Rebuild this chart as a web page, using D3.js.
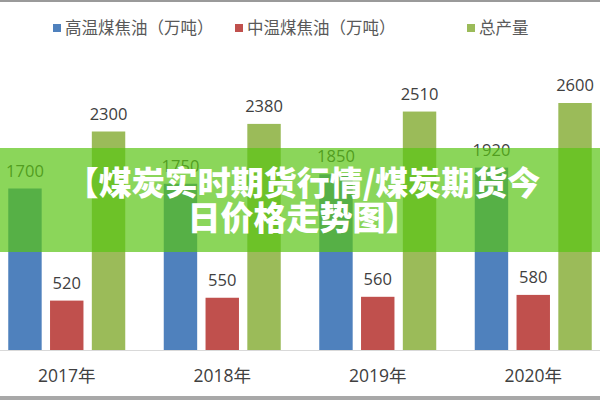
<!DOCTYPE html>
<html>
<head>
<meta charset="utf-8">
<script src="https://cdn.jsdelivr.net/npm/d3@7"></script>
<style>
  body { margin: 0; background: #fff; }
  text { font-family: "Open Sans", "Noto Sans CJK SC", sans-serif; }
</style>
</head>
<body>
<script>
var categories = ["2017年", "2018年", "2019年", "2020年"];
var seriesNames = ["高温煤焦油（万吨）", "中温煤焦油（万吨）", "总产量"];
var highTemp = [1700, 1750, 1850, 1920];
var midTemp = [520, 550, 560, 580];
var total = [2300, 2380, 2510, 2600];
var colors = ["#4f81bd", "#c0504d", "#9bbb59"];
var title = ["【煤炭实时期货行情/煤炭期货今", "日价格走势图】"];

var width = 600, height = 400;
var baseY = 350;

var svg = d3.select("body").append("svg")
    .attr("width", width)
    .attr("height", height);

var x0 = d3.scaleBand()
    .domain(categories)
    .range([-11, 611]);

var x1 = d3.scaleBand()
    .domain([0, 1, 2])
    .range([0, 117])
    .paddingInner(0.2);

var y = d3.scaleLinear()
    .domain([0, 3000])
    .range([baseY, baseY - 285]);

var series = [highTemp, midTemp, total];
var rows = categories.map((c, i) => ({ cat: c, vals: series.map(s => s[i]) }));

// frame lines
svg.append("rect").attr("x", 0).attr("y", 0).attr("width", width).attr("height", 2).attr("fill", "#9a9a9a");
svg.append("rect").attr("x", 0).attr("y", 396).attr("width", width).attr("height", 4).attr("fill", "#a8a8a8");

// legend
var legendX = [53, 235, 467];
var legend = svg.append("g").selectAll("g").data(seriesNames).enter().append("g")
    .attr("transform", (d, i) => "translate(" + legendX[i] + ",0)");
legend.append("rect")
    .attr("x", 0).attr("y", 24).attr("width", 8).attr("height", 8)
    .attr("fill", (d, i) => colors[i]);
legend.append("text")
    .attr("x", 12).attr("y", 34)
    .attr("font-size", 16.5)
    .attr("fill", "#595959")
    .text(d => d);

// bars
var groups = svg.append("g").selectAll("g").data(rows).enter().append("g")
    .attr("transform", d => "translate(" + (x0(d.cat) + (x0.bandwidth() - 117) / 2) + ",0)");

groups.selectAll("rect").data(d => d.vals).enter().append("rect")
    .attr("x", (d, i) => x1(i))
    .attr("y", d => y(d))
    .attr("width", x1.bandwidth())
    .attr("height", d => baseY - y(d))
    .attr("fill", (d, i) => colors[i]);

groups.selectAll("text.val").data(d => d.vals).enter().append("text")
    .attr("class", "val")
    .attr("x", (d, i) => x1(i) + x1.bandwidth() / 2)
    .attr("y", d => y(d) - 12)
    .attr("text-anchor", "middle")
    .attr("font-size", 16.5)
    .attr("fill", "#404040")
    .text(d => d);

// x axis
var xAxis = svg.append("g")
    .attr("transform", "translate(0," + baseY + ")")
    .call(d3.axisBottom(x0).tickSize(0).tickPadding(0));
xAxis.select(".domain").attr("stroke", "#d9d9d9").attr("d", "M0,0.5H600");
xAxis.selectAll("text")
    .attr("dy", 0)
    .attr("y", 32)
    .attr("font-size", 17.5)
    .attr("fill", "#404040")
    .style("font-family", "'Open Sans', 'Noto Sans CJK SC', sans-serif");

// banner overlay
svg.append("rect")
    .attr("x", 0).attr("y", 148).attr("width", width).attr("height", 104)
    .attr("fill", "rgb(90,196,20)")
    .attr("fill-opacity", 0.7);

svg.append("g").selectAll("text").data(title).enter().append("text")
    .attr("x", 303)
    .attr("y", (d, i) => 195 + i * 35)
    .attr("text-anchor", "middle")
    .attr("font-size", 33)
    .attr("font-weight", 900)
    .attr("fill", "#fff")
    .style("font-family", "'Noto Sans CJK SC', sans-serif")
    .text(d => d);
</script>
</body>
</html>
